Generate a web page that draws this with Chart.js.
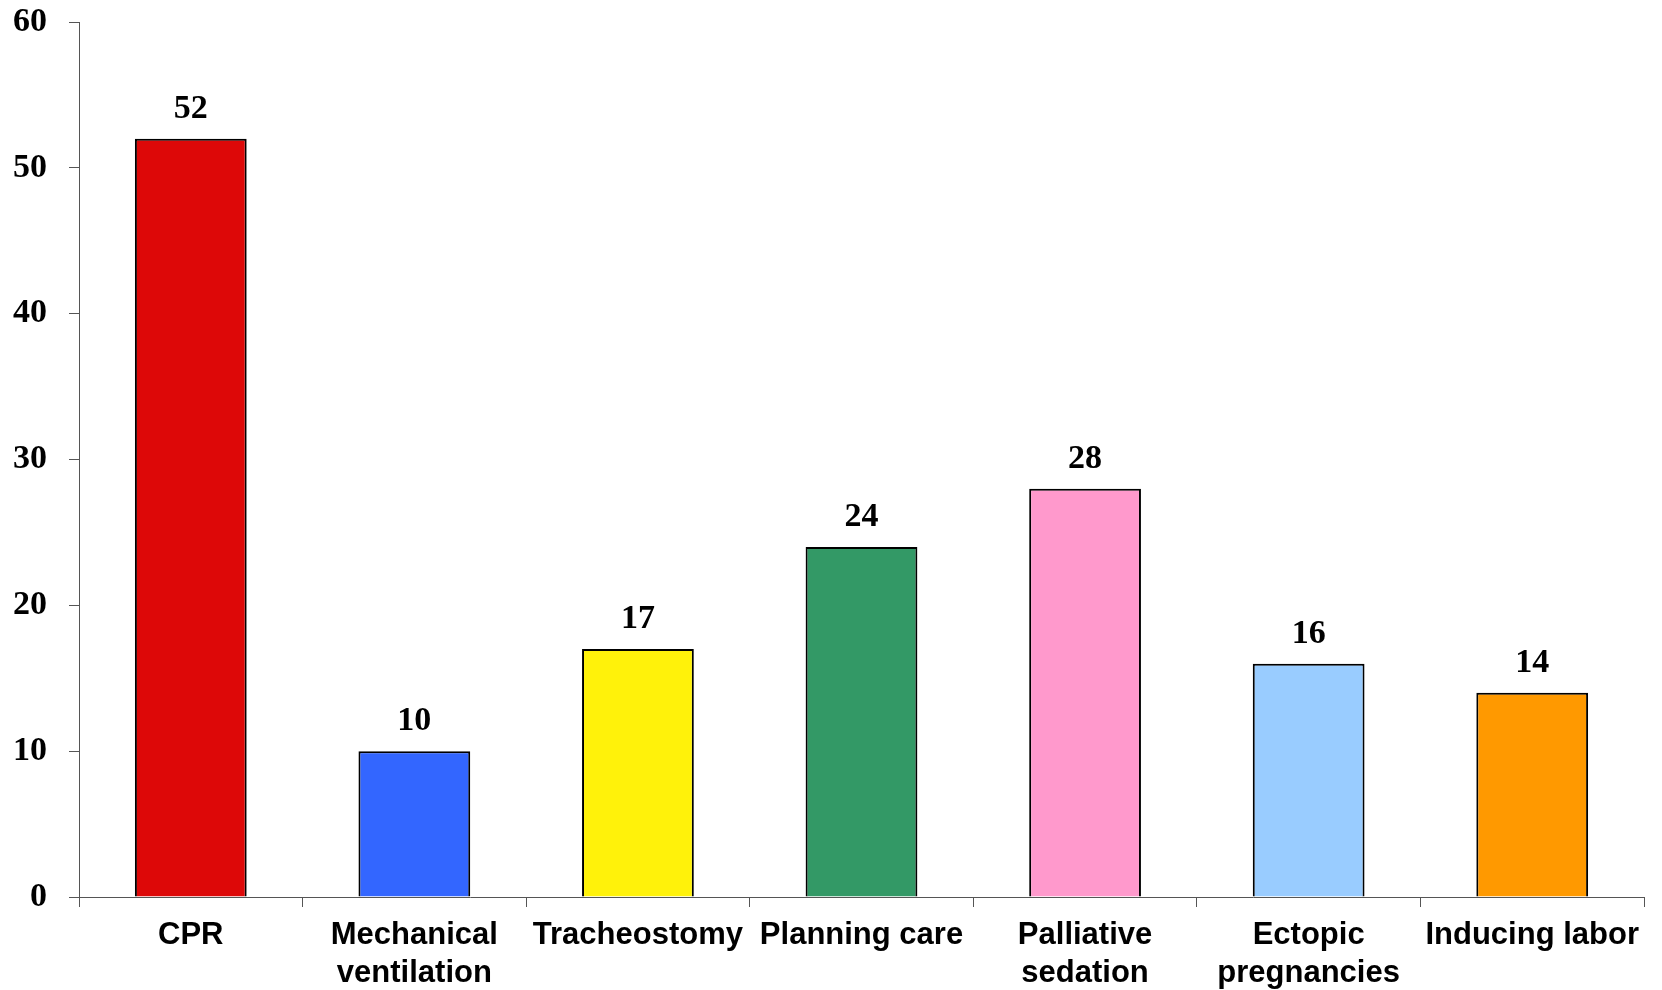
<!DOCTYPE html>
<html>
<head>
<meta charset="utf-8">
<script src="https://cdn.jsdelivr.net/npm/chart.js@4/dist/chart.umd.min.js"></script>
<style>
  html, body { margin: 0; padding: 0; background: #fff; }
  #wrap { width: 1662px; height: 990px; }
</style>
</head>
<body>
<div id="wrap"><canvas id="chart" width="1662" height="990"></canvas></div>
<script>
const categories = [
  'CPR',
  ['Mechanical', 'ventilation'],
  'Tracheostomy',
  'Planning care',
  ['Palliative', 'sedation'],
  ['Ectopic', 'pregnancies'],
  'Inducing labor'
];
const counts = [52, 10, 17, 24, 28, 16, 14];
const barColors = ['#dd0808', '#3366ff', '#fff20a', '#339966', '#ff99cc', '#99ccff', '#ff9900'];
const yTicks = [0, 10, 20, 30, 40, 50, 60];

const axisColor = '#555555';

// value above each bar
const valueLabels = {
  id: 'valueLabels',
  afterDatasetsDraw(chart) {
    const ctx = chart.ctx;
    const meta = chart.getDatasetMeta(0);
    ctx.save();
    ctx.font = 'bold 34px "Liberation Serif", "Times New Roman", serif';
    ctx.fillStyle = '#000';
    ctx.textAlign = 'center';
    ctx.textBaseline = 'alphabetic';
    meta.data.forEach((bar, i) => {
      ctx.fillText(String(counts[i]), bar.x, bar.y - 21);
    });
    ctx.restore();
  }
};

const ctx = document.getElementById('chart').getContext('2d');
window.chart = new Chart(ctx, {
  type: 'bar',
  data: {
    labels: categories,
    datasets: [{
      data: counts,
      backgroundColor: barColors,
      borderColor: '#000',
      borderWidth: 2,
      barPercentage: 0.5,
      categoryPercentage: 1.0
    }]
  },
  options: {
    responsive: false,
    animation: false,
    layout: { padding: { top: 22, right: 18, left: 0, bottom: 0 } },
    plugins: {
      legend: { display: false },
      tooltip: { enabled: false }
    },
    scales: {
      x: {
        offset: true,
        afterFit(scale) { scale.height = 93; },
        border: { display: true, color: axisColor, width: 1 },
        grid: {
          display: true,
          drawOnChartArea: false,
          drawTicks: true,
          tickLength: 10,
          color: axisColor,
          offset: true
        },
        ticks: {
          color: '#000',
          font: { family: '"Liberation Sans", Arial, sans-serif', size: 31, weight: 'bold', lineHeight: 1.23 },
          padding: 9,
          maxRotation: 0,
          autoSkip: false
        }
      },
      y: {
        min: yTicks[0],
        max: yTicks[yTicks.length - 1],
        afterFit(scale) {
          scale.width = 79;
          scale.paddingTop = 0;
          scale.paddingBottom = 0;
        },
        afterBuildTicks(scale) { scale.ticks = yTicks.map(v => ({ value: v })); },
        border: { display: true, color: axisColor, width: 1 },
        grid: {
          display: true,
          drawOnChartArea: false,
          drawTicks: true,
          tickLength: 10,
          color: axisColor
        },
        ticks: {
          color: '#000',
          font: { family: '"Liberation Serif", "Times New Roman", serif', size: 34, weight: 'bold' },
          padding: 22
        }
      }
    }
  },
  plugins: [valueLabels]
});
</script>
</body>
</html>
